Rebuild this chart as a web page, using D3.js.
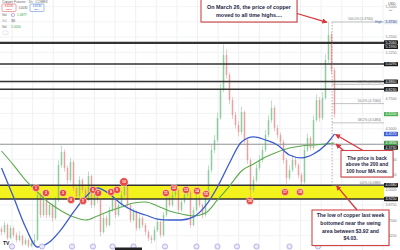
<!DOCTYPE html>
<html>
<head>
<meta charset="utf-8">
<script src="https://d3js.org/d3.v7.min.js"></script>
<style>
html, body { margin: 0; padding: 0; background: #fff; }
svg { display: block; font-family: "Liberation Sans", Arial, sans-serif; }
</style>
</head>
<body>
<svg id="chart" width="400" height="250"></svg>
<script>
/*
    Data - copper futures, hourly candles (open = previous close)
*/
const firstOpen = 3.680;
const closes = [3.655,3.712,3.606,3.687,3.630,3.589,3.622,3.556,3.589,3.540,3.565,3.589,
    3.958,3.794,3.917,3.794,3.876,3.769,3.917,4.203,4.310,4.179,4.080,4.228,
    4.015,3.949,4.080,3.999,3.917,4.113,3.876,3.982,3.917,3.655,3.769,3.712,
    3.835,3.917,3.794,3.876,3.958,4.040,3.876,3.753,3.818,3.687,3.769,3.712,
    3.655,3.606,3.589,3.671,3.737,3.630,3.794,3.933,3.876,3.958,3.999,3.835,
    3.900,3.958,3.982,3.712,3.835,3.933,3.876,3.794,3.958,4.162,4.326,4.408,
    4.588,4.817,5.104,4.940,4.735,4.613,4.531,4.473,4.637,4.408,4.244,3.999,
    4.080,4.179,4.244,4.326,4.449,4.572,4.670,4.506,4.449,4.392,4.244,4.097,
    4.162,4.244,4.203,4.121,4.064,4.326,4.424,4.342,4.572,4.735,4.588,4.752,
    5.063,5.268,4.981,4.620];
const highs = [3.700,3.740,3.725,3.710,3.700,3.650,3.660,3.635,3.610,3.600,3.590,3.640,
    4.000,3.975,3.950,3.930,3.900,3.890,3.940,4.240,4.360,4.330,4.200,4.260,
    4.240,4.030,4.110,4.095,4.020,4.150,4.125,4.010,4.000,3.930,3.800,3.790,
    3.860,3.950,3.935,3.910,3.990,4.080,4.055,3.890,3.850,3.830,3.800,3.785,
    3.730,3.670,3.630,3.700,3.770,3.750,3.820,3.960,3.950,3.985,4.040,4.010,
    3.930,3.985,4.020,3.995,3.860,3.965,3.950,3.890,3.985,4.200,4.370,4.450,
    4.630,4.870,5.190,5.150,4.960,4.760,4.640,4.560,4.680,4.650,4.420,4.260,
    4.110,4.210,4.280,4.360,4.490,4.610,4.730,4.690,4.530,4.470,4.410,4.260,
    4.200,4.280,4.270,4.220,4.140,4.360,4.460,4.440,4.610,4.780,4.760,4.800,
    5.110,5.374,5.290,5.000];
const lows = [3.630,3.640,3.590,3.595,3.610,3.570,3.575,3.540,3.545,3.525,3.530,3.550,
    3.580,3.770,3.780,3.770,3.775,3.740,3.755,3.900,4.180,4.150,4.050,4.060,
    3.990,3.920,3.935,3.975,3.895,3.905,3.850,3.860,3.890,3.620,3.640,3.690,
    3.700,3.820,3.770,3.780,3.860,3.940,3.850,3.730,3.740,3.665,3.670,3.690,
    3.630,3.580,3.560,3.575,3.655,3.610,3.615,3.780,3.855,3.860,3.940,3.810,
    3.820,3.885,3.940,3.690,3.700,3.820,3.855,3.765,3.780,3.940,4.140,4.300,
    4.390,4.570,4.800,4.910,4.700,4.580,4.500,4.440,4.450,4.380,4.210,3.920,
    3.980,4.060,4.160,4.225,4.310,4.430,4.550,4.480,4.420,4.360,4.215,4.050,
    4.080,4.145,4.180,4.095,4.040,4.050,4.310,4.320,4.330,4.555,4.560,4.570,
    4.740,5.040,4.950,4.590];

// moving averages read every 4th candle
const maIdx = [0,4,8,12,16,20,24,28,32,36,40,44,48,52,56,60,64,68,72,76,80,84,88,92,96,100,104,108,111];
const ma100 = [4.179,3.941,3.696,3.532,3.573,3.679,3.818,3.941,4.015,3.966,3.884,3.827,3.794,3.761,
    3.753,3.753,3.778,3.868,4.023,4.220,4.392,4.433,4.408,4.367,4.285,4.261,4.293,4.367,4.457];
const ma200 = [4.318,4.203,4.080,3.982,3.892,3.827,3.778,3.753,3.786,3.827,3.859,3.892,3.900,3.868,
    3.827,3.802,3.786,3.810,3.917,4.031,4.154,4.211,4.269,4.310,4.342,4.359,4.367,4.375,4.383];

// key levels
const swingLevels = [5.2060, 5.1990, 5.0295, 4.8860, 4.8230];
const maLevel = 4.3730;
const swingArea = [3.9250, 4.0380];
const fibLow = 4.0380, fibHigh = 5.3740;
const fibRatios = [1, 0.618, 0.5, 0.382, 0];
const lastPrice = 4.6200;

// touches of the swing area (candle index, price)
const touchIdx = [11.5,14.8,20.5,23.2,27.2,30.5,32.2,36.5,38.5,40.8,54.8,57.5,61.5,65.2,68.2,82.8,94.5,99.5];
const touchPx = [4.015,3.974,3.974,3.917,3.909,3.999,3.974,3.982,3.999,4.064,3.974,4.015,3.999,3.991,3.966,3.909,3.982,3.982];
const eventIdx = [3.5,13.5,23.5,30.5,37,44,54.5,65,72,78.5,85,96,105.5];

const noteHigh = ["On March 26, the price of copper", "moved to all time highs...."];
const noteMA = ["The price is back", "above the 200 and", "100 hour MA now."];
const noteLow = ["The low of copper last week", "bottomed near the swing", "area between $3.92 and", "$4.03."];

/*
    Scales
*/
const plotRight = 384;
const svg = d3.select("#chart");
const x = d3.scaleLinear().domain([0, closes.length - 1]).range([1.5, 334.5]);
const y = d3.scaleLinear().domain([3.55, 5.55]).range([244.8, 0.5]);
const fmt = d3.format(".4f");
const upCol = "#72c285", downCol = "#e58a8a";

svg.append("rect").attr("width", 400).attr("height", 250).attr("fill", "#fff");

/* grid */
const ticks = d3.range(3.625, 5.55, 0.125);
svg.append("g").selectAll("line").data(d3.range(3.5, 128, 6.87)).join("line")
    .attr("x1", d => x(d)).attr("x2", d => x(d))
    .attr("y1", 0).attr("y2", 250)
    .attr("stroke", "#eaecf0").attr("stroke-width", 0.8);
svg.append("g").selectAll("line").data(ticks).join("line")
    .attr("x1", 0).attr("x2", plotRight)
    .attr("y1", d => y(d)).attr("y2", d => y(d))
    .attr("stroke", "#eef0f3").attr("stroke-width", 0.8);

/* swing area band */
svg.append("rect")
    .attr("x", 0).attr("width", plotRight)
    .attr("y", y(swingArea[1])).attr("height", y(swingArea[0]) - y(swingArea[1]))
    .attr("fill", "#f3f21c");

/* candles */
const candles = closes.map((c, i) => ({ i, o: i ? closes[i - 1] : firstOpen, c, h: highs[i], l: lows[i] }));
const cg = svg.append("g").attr("opacity", 0.8);
cg.selectAll("line").data(candles).join("line")
    .attr("x1", d => x(d.i)).attr("x2", d => x(d.i))
    .attr("y1", d => y(d.h)).attr("y2", d => y(d.l))
    .attr("stroke", d => d.c >= d.o ? upCol : downCol).attr("stroke-width", 0.6);
cg.selectAll("rect").data(candles).join("rect")
    .attr("x", d => x(d.i) - 0.75).attr("width", 1.5)
    .attr("y", d => y(Math.max(d.o, d.c)))
    .attr("height", d => Math.max(0.6, Math.abs(y(d.o) - y(d.c))))
    .attr("fill", d => d.c >= d.o ? upCol : downCol);

/* horizontal levels */
svg.append("g").selectAll("line").data(swingLevels.concat(swingArea)).join("line")
    .attr("x1", 0).attr("x2", plotRight)
    .attr("y1", d => y(d)).attr("y2", d => y(d))
    .attr("stroke", "#333").attr("stroke-width", 1.5);
svg.append("line")
    .attr("x1", 0).attr("x2", plotRight)
    .attr("y1", y(maLevel)).attr("y2", y(maLevel))
    .attr("stroke", "#8c8c8c").attr("stroke-width", 0.9);

/* moving averages */
const maLine = d3.line().x(d => x(d[0])).y(d => y(d[1])).curve(d3.curveMonotoneX);
svg.append("path").datum(maIdx.map((k, j) => [k, ma200[j]]))
    .attr("d", maLine).attr("fill", "none").attr("stroke", "#5cab4e").attr("stroke-width", 1.1);
svg.append("path").datum(maIdx.map((k, j) => [k, ma100[j]]))
    .attr("d", maLine).attr("fill", "none").attr("stroke", "#3b5bd0").attr("stroke-width", 1.3);

/* fibonacci retracement */
const fibX = x(110.2);
const fibG = svg.append("g");
fibG.append("line")
    .attr("x1", fibX).attr("x2", fibX).attr("y1", y(fibHigh)).attr("y2", y(fibLow))
    .attr("stroke", "#b08080").attr("stroke-width", 0.7).attr("stroke-dasharray", "1.5,1.5");
fibG.selectAll("line.f").data(fibRatios).join("line")
    .attr("x1", fibX).attr("x2", plotRight)
    .attr("y1", d => y(fibLow + d * (fibHigh - fibLow))).attr("y2", d => y(fibLow + d * (fibHigh - fibLow)))
    .attr("stroke", "#9a9a9a").attr("stroke-width", 0.6);
fibG.selectAll("text").data(fibRatios).join("text")
    .attr("x", d => d === 1 ? 373 : 381)
    .attr("y", d => y(fibLow + d * (fibHigh - fibLow)) - 1.5)
    .attr("text-anchor", "end").attr("font-size", 3.4).attr("fill", "#777")
    .text(d => d3.format(".1%")(d) + " (" + fmt(fibLow + d * (fibHigh - fibLow)) + ")");
fibG.append("text").attr("x", 382).attr("y", y(fibHigh) + 1.2)
    .attr("text-anchor", "end").attr("font-size", 3.4).attr("fill", "#4a6fb5").text("High");

/* touches of the swing area */
const tg = svg.append("g");
tg.selectAll("circle").data(touchIdx).join("circle")
    .attr("cx", d => x(d)).attr("cy", (d, i) => y(touchPx[i]))
    .attr("r", (d, i) => i === 9 ? 4.3 : 3.6)
    .attr("fill", "#e8463f").attr("stroke", "#fff").attr("stroke-width", 0.5);
tg.selectAll("text").data(touchIdx).join("text")
    .attr("x", d => x(d)).attr("y", (d, i) => y(touchPx[i]) + 1.3)
    .attr("text-anchor", "middle").attr("font-size", 3.6).attr("font-weight", "bold")
    .attr("fill", "#fff").text((d, i) => i + 1);

/* bottom time strip */
svg.append("g").selectAll("circle").data(eventIdx).join("circle")
    .attr("cx", d => x(d)).attr("cy", 246.5).attr("r", 2.6)
    .attr("fill", "#ece8fb").attr("stroke", "#a698dc").attr("stroke-width", 0.7);
svg.append("rect").attr("x", 115).attr("y", 247.5).attr("width", 27).attr("height", 3).attr("fill", "#222");
svg.append("text").attr("x", 3).attr("y", 245).attr("font-size", 5).attr("font-weight", "bold")
    .attr("fill", "#222").text("TV");

/* right price scale */
const axisLabels = [
    { p: fibHigh, bg: "#e3eaf8", fg: "#2c3e70" },
    ...swingLevels.map(p => ({ p, bg: "#1c1c1c", fg: "#fff" })),
    { p: lastPrice, bg: "#4caf50", fg: "#fff" },
    { p: ma100[ma100.length - 1], bg: "#3b5bd0", fg: "#fff" },
    { p: ma200[ma200.length - 1], bg: "#43a047", fg: "#fff" },
    { p: maLevel, bg: "#1c1c1c", fg: "#fff" },
    ...swingArea.map(p => ({ p, bg: "#1c1c1c", fg: "#fff" }))
];
axisLabels.forEach(d => d.y = y(d.p));
axisLabels.sort((a, b) => a.y - b.y);
for (let i = 1; i < axisLabels.length; i++) {
    if (axisLabels[i].y - axisLabels[i - 1].y < 4.4) axisLabels[i].y = axisLabels[i - 1].y + 4.4;
}
const tickShown = ticks.filter(t => axisLabels.every(d => Math.abs(d.y - y(t)) > 4.5));
svg.append("g").selectAll("text").data(tickShown).join("text")
    .attr("x", 391).attr("y", d => y(d) + 1.3).attr("text-anchor", "middle")
    .attr("font-size", 3.6).attr("fill", "#777").text(d => fmt(d));
const lg = svg.append("g").selectAll("g").data(axisLabels).join("g");
lg.append("rect").attr("x", 384).attr("y", d => d.y - 2.2).attr("width", 14).attr("height", 4.4)
    .attr("rx", 0.6).attr("fill", d => d.bg);
lg.append("text").attr("x", 391).attr("y", d => d.y + 1.3).attr("text-anchor", "middle")
    .attr("font-size", 3.6).attr("fill", d => d.fg).text(d => fmt(d.p));
svg.append("text").attr("x", 388).attr("y", 5).attr("font-size", 3.6).attr("fill", "#555").text("USD");
svg.append("path").attr("d", "M389,9.5L390.5,11L392,9.5").attr("fill", "none")
    .attr("stroke", "#555").attr("stroke-width", 0.5);

/* annotations */
const defs = svg.append("defs");
defs.append("marker").attr("id", "arr").attr("viewBox", "0 0 10 10")
    .attr("refX", 9).attr("refY", 5).attr("markerWidth", 4).attr("markerHeight", 4)
    .attr("orient", "auto-start-reverse")
    .append("path").attr("d", "M0,0L10,5L0,10z").attr("fill", "#d8343a");

function arrow(x1, y1, x2, y2) {
    svg.append("line").attr("x1", x1).attr("y1", y1).attr("x2", x2).attr("y2", y2)
        .attr("stroke", "#d8343a").attr("stroke-width", 1.3).attr("marker-end", "url(#arr)");
}
function note(lines, bx, by, bw, bh, fs, first, step) {
    svg.append("rect").attr("x", bx + 1).attr("y", by + 1).attr("width", bw).attr("height", bh)
        .attr("fill", "#000").attr("opacity", 0.12);
    svg.append("rect").attr("x", bx).attr("y", by).attr("width", bw).attr("height", bh)
        .attr("fill", "#fff").attr("stroke", "#cf4548").attr("stroke-width", 1.1);
    svg.append("g").selectAll("text").data(lines).join("text")
        .attr("x", bx + bw / 2).attr("y", (d, i) => first + i * step)
        .attr("text-anchor", "middle").attr("font-size", fs).attr("font-weight", "bold")
        .attr("fill", "#1e2544").text(d => d);
}

arrow(297, 13.5, x(109) - 1.5, y(fibHigh) + 0.3);
arrow(363, 150.5, x(111) + 1, y(ma100[ma100.length - 1]) + 0.5);
arrow(344, 151, x(111) + 1.5, y(ma200[ma200.length - 1]) + 1);
arrow(357, 210, x(111) + 2, y(swingArea[1]) + 0.5);

note(noteHigh, 201, -2, 96, 24, 5.4, 8.5, 8.3);
note(noteMA, 341, 150.5, 52, 26.5, 4.9, 159.8, 6.4);
note(noteLow, 312, 210, 77, 35.5, 5.1, 217.2, 7.7);

/* legend, top left */
svg.append("text").attr("x", 2).attr("y", 2.8).attr("font-size", 3.4).attr("fill", "#666")
    .text("Copper Futures · 1h · COMEX");
svg.append("rect").attr("x", 2).attr("y", 4).attr("width", 14).attr("height", 7.5)
    .attr("rx", 1).attr("fill", "#fff").attr("stroke", "#e06a6a").attr("stroke-width", 0.6);
svg.append("text").attr("x", 9).attr("y", 7.2).attr("text-anchor", "middle").attr("font-size", 2.8)
    .attr("fill", "#d33").text(fmt(lastPrice));
svg.append("text").attr("x", 9).attr("y", 10.4).attr("text-anchor", "middle").attr("font-size", 2.5)
    .attr("fill", "#d33").text("SELL");
svg.append("text").attr("x", 23).attr("y", 8.6).attr("text-anchor", "middle").attr("font-size", 2.8)
    .attr("fill", "#555").text("0.0030");
svg.append("rect").attr("x", 30).attr("y", 4).attr("width", 14).attr("height", 7.5)
    .attr("rx", 1).attr("fill", "#fff").attr("stroke", "#6a8ee0").attr("stroke-width", 0.6);
svg.append("text").attr("x", 37).attr("y", 7.2).attr("text-anchor", "middle").attr("font-size", 2.8)
    .attr("fill", "#2f5fd0").text(fmt(lastPrice + 0.003));
svg.append("text").attr("x", 37).attr("y", 10.4).attr("text-anchor", "middle").attr("font-size", 2.5)
    .attr("fill", "#2f5fd0").text("BUY");
svg.append("text").attr("x", 2).attr("y", 16).attr("font-size", 3.2).attr("fill", "#555").text("Vol");
svg.append("text").attr("x", 17).attr("y", 16).attr("font-size", 3.2).attr("fill", "#3a9a4a").text("1.0877");
svg.append("circle").attr("cx", 13).attr("cy", 15).attr("r", 1.6).attr("fill", "none").attr("stroke", "#8a6ad0").attr("stroke-width", 0.5);
svg.append("text").attr("x", 2).attr("y", 21.5).attr("font-size", 3.2).attr("fill", "#999").text("Vol");
svg.append("rect").attr("x", 11).attr("y", 18.8).attr("width", 4.5).attr("height", 3.6).attr("fill", "#e8e8e8");
svg.append("text").attr("x", 11.6).attr("y", 21.7).attr("font-size", 2.8).attr("fill", "#555").text("30");
svg.append("text").attr("x", 2).attr("y", 27.5).attr("font-size", 3.2).attr("fill", "#555").text("Vol");
svg.append("text").attr("x", 11).attr("y", 27.5).attr("font-size", 3.2).attr("fill", "#3a9a4a").text("1.0050");
svg.append("rect").attr("x", 3).attr("y", 31).attr("width", 5).attr("height", 3.5)
    .attr("fill", "#fff").attr("stroke", "#ccc").attr("stroke-width", 0.4);
</script>
</body>
</html>
